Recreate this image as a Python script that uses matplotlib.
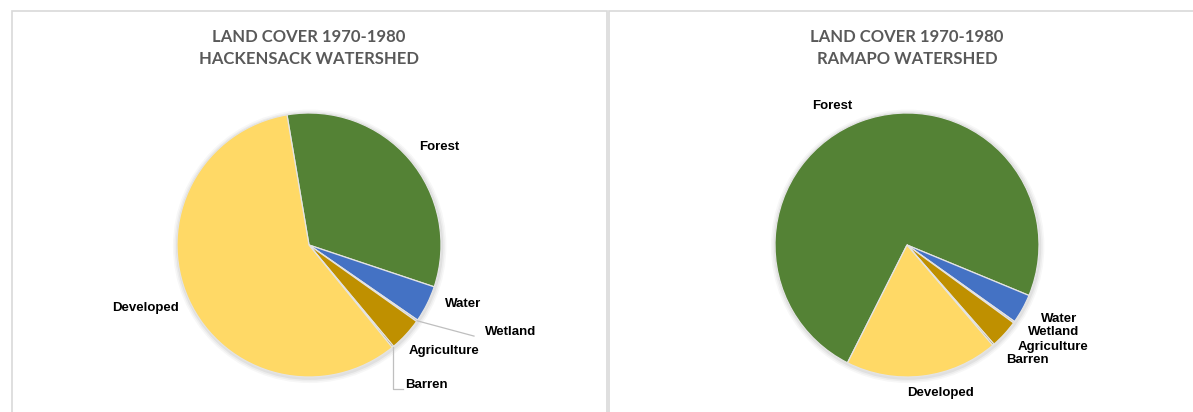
import matplotlib.pyplot as plt
import numpy as np
from matplotlib.patches import Rectangle

# land cover shares (%)
categories = ['Forest', 'Water', 'Wetland', 'Agriculture', 'Barren', 'Developed']
hackensack = [32.8, 4.5, 0.2, 4.1, 0.2, 58.2]
ramapo = [73.8, 3.6, 0.2, 3.5, 0.2, 18.7]
titles = ['LAND COVER 1970-1980\nHACKENSACK WATERSHED',
          'LAND COVER 1970-1980\nRAMAPO WATERSHED']
colors = ['#548235', '#4472C4', '#A5A5A5', '#BF9000', '#7F6000', '#FFD966']

# label text positions in pie-radius units
left_pos = [(0.99, 0.74), (1.17, -0.45), (1.53, -0.66), (1.02, -0.80), (0.72, -1.06), (-1.24, -0.48)]
left_lead = [False, False, True, False, True, False]
right_pos = [(-0.57, 1.05), (1.15, -0.56), (1.11, -0.66), (1.11, -0.77), (0.91, -0.87), (0.25, -1.12)]
right_lead = [False] * 6

W, H = 1193, 412
fig = plt.figure(figsize=(W / 100, H / 100), dpi=100)
plt.rcParams['font.family'] = ['Liberation Sans', 'DejaVu Sans']

# panel frames (right one runs off the image)
for x0, x1 in [(11.5, 607), (609, 1210)]:
    fig.patches.append(Rectangle((x0 / W, -0.1), (x1 - x0) / W, (H - 11) / H + 0.1,
                                 transform=fig.transFigure, fill=False,
                                 edgecolor='#D9D9D9', lw=1.2))

R = 132
panels = [(309, hackensack, 99.6, titles[0], left_pos, left_lead),
          (907, ramapo, 243.2, titles[1], right_pos, right_lead)]
for cx, vals, start, title, pos, lead in panels:
    cy = 245
    ax = fig.add_axes([(cx - 2 * R) / W, (H - cy - 2 * R) / H, 4 * R / W, 4 * R / H])
    # soft shadow
    for i, a in enumerate([0.05, 0.04, 0.03]):
        ax.add_patch(plt.Circle((0.005, -0.01), 1 + 0.012 * (i + 1), color='black',
                                alpha=a, lw=0, zorder=0))
    wedges, _ = ax.pie(vals, colors=colors, startangle=start, counterclock=False,
                       radius=1, wedgeprops=dict(edgecolor='#E4E4E4', linewidth=0.9))
    ax.set_xlim(-2, 2)
    ax.set_ylim(-2, 2)
    ax.axis('off')
    for w in wedges:
        w.set_zorder(1)
    for w, lab, (tx, ty), ld in zip(wedges, categories, pos, lead):
        if ld:
            ang = np.deg2rad((w.theta1 + w.theta2) / 2)
            px, py = np.cos(ang), np.sin(ang)
            if lab == 'Wetland':
                ax.plot([px, tx - 0.28], [py, ty - 0.03], color='#BFBFBF', lw=0.9)
                ax.text(tx, ty, lab, ha='center', va='center', fontsize=9.5, weight='bold')
            else:
                ax.plot([px, px, px + 0.08], [py, ty - 0.03, ty - 0.03], color='#BFBFBF', lw=0.9)
                ax.text(px + 0.09, ty, lab, ha='left', va='center', fontsize=9.5, weight='bold')
        else:
            ax.text(tx, ty, lab, ha='center', va='center', fontsize=9.5, weight='bold')
    fig.text(cx / W, 1 - 48 / H, title, ha='center', va='center', fontsize=12,
             weight='bold', color='#595959', family=['Lato', 'DejaVu Sans'],
             linespacing=1.4)

fig.savefig('out.png', dpi=100)
